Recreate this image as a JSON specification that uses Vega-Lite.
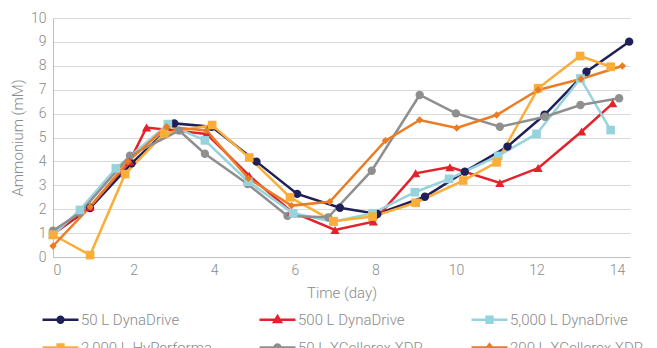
{
  "$schema": "https://vega.github.io/schema/vega-lite/v6.json",
  "width": 577,
  "height": 239,
  "autosize": "none",
  "padding": {"left": 53, "top": 18, "right": 27, "bottom": 91},
  "config": {
    "font": "Roboto",
    "view": {"stroke": null},
    "axis": {
      "labelColor": "#8a8a8a",
      "titleColor": "#8a8a8a",
      "labelFontSize": 14,
      "titleFontSize": 15,
      "titleFontWeight": 300,
      "labelFontWeight": 300,
      "ticks": false,
      "domainColor": "#bfbfbf",
      "gridColor": "#d9d9d9",
      "gridWidth": 1.2
    },
    "legend": {
      "title": null,
      "orient": "none",
      "legendX": -12,
      "legendY": 282,
      "direction": "horizontal",
      "columns": 3,
      "columnPadding": 42,
      "symbolSize": 1296,
      "symbolStrokeWidth": 2.5,
      "symbolOpacity": 1,
      "labelOffset": 1,
      "labelFontSize": 15,
      "labelFontWeight": 300,
      "labelColor": "#8a8a8a",
      "labelLimit": 300
    }
  },
  "data": {
    "values": [
      {"s": "50 L DynaDrive", "d": 0, "v": 0.97},
      {"s": "50 L DynaDrive", "d": 0.92, "v": 2.05},
      {"s": "50 L DynaDrive", "d": 1.95, "v": 3.92},
      {"s": "50 L DynaDrive", "d": 3.01, "v": 5.59},
      {"s": "50 L DynaDrive", "d": 3.94, "v": 5.45},
      {"s": "50 L DynaDrive", "d": 5.05, "v": 3.99},
      {"s": "50 L DynaDrive", "d": 6.06, "v": 2.64},
      {"s": "50 L DynaDrive", "d": 7.12, "v": 2.06},
      {"s": "50 L DynaDrive", "d": 8.05, "v": 1.8},
      {"s": "50 L DynaDrive", "d": 9.23, "v": 2.52},
      {"s": "50 L DynaDrive", "d": 10.22, "v": 3.57},
      {"s": "50 L DynaDrive", "d": 11.28, "v": 4.62},
      {"s": "50 L DynaDrive", "d": 12.2, "v": 5.95},
      {"s": "50 L DynaDrive", "d": 13.24, "v": 7.75},
      {"s": "50 L DynaDrive", "d": 14.3, "v": 9.01},

      {"s": "500 L DynaDrive", "d": 0, "v": 0.95},
      {"s": "500 L DynaDrive", "d": 0.92, "v": 2.1},
      {"s": "500 L DynaDrive", "d": 1.9, "v": 4.0},
      {"s": "500 L DynaDrive", "d": 2.32, "v": 5.42},
      {"s": "500 L DynaDrive", "d": 3.81, "v": 5.15},
      {"s": "500 L DynaDrive", "d": 4.87, "v": 3.4},
      {"s": "500 L DynaDrive", "d": 5.92, "v": 1.9},
      {"s": "500 L DynaDrive", "d": 7.0, "v": 1.13},
      {"s": "500 L DynaDrive", "d": 7.95, "v": 1.48},
      {"s": "500 L DynaDrive", "d": 9.0, "v": 3.5},
      {"s": "500 L DynaDrive", "d": 9.85, "v": 3.76},
      {"s": "500 L DynaDrive", "d": 11.09, "v": 3.1},
      {"s": "500 L DynaDrive", "d": 12.04, "v": 3.72},
      {"s": "500 L DynaDrive", "d": 13.12, "v": 5.25},
      {"s": "500 L DynaDrive", "d": 13.89, "v": 6.43},

      {"s": "5,000 L DynaDrive", "d": 0, "v": 0.92},
      {"s": "5,000 L DynaDrive", "d": 0.67, "v": 1.97},
      {"s": "5,000 L DynaDrive", "d": 1.56, "v": 3.71},
      {"s": "5,000 L DynaDrive", "d": 2.85, "v": 5.56},
      {"s": "5,000 L DynaDrive", "d": 3.77, "v": 4.88},
      {"s": "5,000 L DynaDrive", "d": 4.85, "v": 3.15},
      {"s": "5,000 L DynaDrive", "d": 5.96, "v": 1.83},
      {"s": "5,000 L DynaDrive", "d": 6.96, "v": 1.48},
      {"s": "5,000 L DynaDrive", "d": 7.93, "v": 1.83},
      {"s": "5,000 L DynaDrive", "d": 8.98, "v": 2.71},
      {"s": "5,000 L DynaDrive", "d": 9.83, "v": 3.27},
      {"s": "5,000 L DynaDrive", "d": 11.05, "v": 4.23},
      {"s": "5,000 L DynaDrive", "d": 12.0, "v": 5.15},
      {"s": "5,000 L DynaDrive", "d": 13.09, "v": 7.47},
      {"s": "5,000 L DynaDrive", "d": 13.84, "v": 5.31},

      {"s": "2,000 L HyPerforma", "d": 0, "v": 0.93},
      {"s": "2,000 L HyPerforma", "d": 0.92, "v": 0.08},
      {"s": "2,000 L HyPerforma", "d": 1.79, "v": 3.47},
      {"s": "2,000 L HyPerforma", "d": 2.76, "v": 5.17},
      {"s": "2,000 L HyPerforma", "d": 3.95, "v": 5.52},
      {"s": "2,000 L HyPerforma", "d": 4.87, "v": 4.16},
      {"s": "2,000 L HyPerforma", "d": 5.88, "v": 2.5},
      {"s": "2,000 L HyPerforma", "d": 6.96, "v": 1.5},
      {"s": "2,000 L HyPerforma", "d": 7.93, "v": 1.69},
      {"s": "2,000 L HyPerforma", "d": 9.0, "v": 2.27},
      {"s": "2,000 L HyPerforma", "d": 10.18, "v": 3.2},
      {"s": "2,000 L HyPerforma", "d": 11.01, "v": 3.96},
      {"s": "2,000 L HyPerforma", "d": 12.04, "v": 7.06},
      {"s": "2,000 L HyPerforma", "d": 13.08, "v": 8.41},
      {"s": "2,000 L HyPerforma", "d": 13.84, "v": 7.96},

      {"s": "50 L XCellerex XDR", "d": 0, "v": 1.1},
      {"s": "50 L XCellerex XDR", "d": 0.67, "v": 1.85},
      {"s": "50 L XCellerex XDR", "d": 1.91, "v": 4.24},
      {"s": "50 L XCellerex XDR", "d": 3.13, "v": 5.29},
      {"s": "50 L XCellerex XDR", "d": 3.77, "v": 4.32},
      {"s": "50 L XCellerex XDR", "d": 4.83, "v": 3.05},
      {"s": "50 L XCellerex XDR", "d": 5.82, "v": 1.72},
      {"s": "50 L XCellerex XDR", "d": 6.83, "v": 1.66},
      {"s": "50 L XCellerex XDR", "d": 7.91, "v": 3.61},
      {"s": "50 L XCellerex XDR", "d": 9.1, "v": 6.78},
      {"s": "50 L XCellerex XDR", "d": 10.0, "v": 6.01},
      {"s": "50 L XCellerex XDR", "d": 11.09, "v": 5.45},
      {"s": "50 L XCellerex XDR", "d": 12.21, "v": 5.87},
      {"s": "50 L XCellerex XDR", "d": 13.09, "v": 6.36},
      {"s": "50 L XCellerex XDR", "d": 14.05, "v": 6.64},

      {"s": "200 L XCellerex XDR", "d": 0, "v": 0.46},
      {"s": "200 L XCellerex XDR", "d": 0.92, "v": 2.1},
      {"s": "200 L XCellerex XDR", "d": 1.86, "v": 3.99},
      {"s": "200 L XCellerex XDR", "d": 2.82, "v": 5.45},
      {"s": "200 L XCellerex XDR", "d": 3.81, "v": 5.29},
      {"s": "200 L XCellerex XDR", "d": 4.85, "v": 3.29},
      {"s": "200 L XCellerex XDR", "d": 5.92, "v": 2.15},
      {"s": "200 L XCellerex XDR", "d": 6.87, "v": 2.31},
      {"s": "200 L XCellerex XDR", "d": 8.25, "v": 4.87},
      {"s": "200 L XCellerex XDR", "d": 9.1, "v": 5.73},
      {"s": "200 L XCellerex XDR", "d": 10.02, "v": 5.4},
      {"s": "200 L XCellerex XDR", "d": 11.01, "v": 5.94},
      {"s": "200 L XCellerex XDR", "d": 12.04, "v": 6.99},
      {"s": "200 L XCellerex XDR", "d": 13.1, "v": 7.45},
      {"s": "200 L XCellerex XDR", "d": 14.13, "v": 7.99}
    ]
  },
  "encoding": {
    "x": {
      "field": "d",
      "type": "quantitative",
      "scale": {"domain": [0, 14.32], "nice": false, "zero": false},
      "axis": {"values": [0, 2, 4, 6, 8, 10, 12, 14], "title": "Time (day)", "grid": false, "labelPadding": 6, "titlePadding": 8}
    },
    "y": {
      "field": "v",
      "type": "quantitative",
      "scale": {"domain": [0, 10], "nice": false},
      "axis": {"values": [0, 1, 2, 3, 4, 5, 6, 7, 8, 9, 10], "title": "Ammonium (mM)", "labelPadding": 7, "titlePadding": 5}
    },
    "color": {
      "field": "s", "type": "nominal",
      "scale": {
        "domain": ["50 L DynaDrive", "500 L DynaDrive", "5,000 L DynaDrive", "2,000 L HyPerforma", "50 L XCellerex XDR", "200 L XCellerex XDR"],
        "range": ["#202058", "#e3222b", "#97d3dc", "#fbad3a", "#8f8f8f", "#ec7c24"]
      }
    }
  },
  "layer": [
    {
      "mark": {"type": "line", "strokeWidth": 2.5}
    },
    {
      "transform": [{"filter": "datum.s === '50 L DynaDrive' || datum.s === '50 L XCellerex XDR'"}],
      "mark": {"type": "point", "filled": true, "opacity": 1, "shape": "circle", "size": 70}
    },
    {
      "transform": [{"filter": "datum.s === '500 L DynaDrive'"}],
      "mark": {"type": "point", "filled": true, "opacity": 1, "shape": "triangle-up", "size": 85}
    },
    {
      "transform": [{"filter": "datum.s === '5,000 L DynaDrive' || datum.s === '2,000 L HyPerforma'"}],
      "mark": {"type": "point", "filled": true, "opacity": 1, "shape": "square", "size": 75}
    },
    {
      "transform": [{"filter": "datum.s === '200 L XCellerex XDR'"}],
      "mark": {"type": "point", "filled": true, "opacity": 1, "shape": "diamond", "size": 55}
    },
    {
      "transform": [{"filter": "datum.v > 100"}],
      "mark": {"type": "point", "filled": true, "opacity": 1},
      "encoding": {
        "shape": {
          "field": "s", "type": "nominal",
          "scale": {
            "domain": ["50 L DynaDrive", "500 L DynaDrive", "5,000 L DynaDrive", "2,000 L HyPerforma", "50 L XCellerex XDR", "200 L XCellerex XDR"],
            "range": [
              "M-1,0H1M0.16,0A0.16,0.16 0 1,1 -0.16,0A0.16,0.16 0 1,1 0.16,0Z",
              "M-1,0H1M0,-0.2L0.19,0.12L-0.19,0.12Z",
              "M-1,0H1M-0.16,-0.16H0.16V0.16H-0.16Z",
              "M-1,0H1M-0.16,-0.16H0.16V0.16H-0.16Z",
              "M-1,0H1M0.16,0A0.16,0.16 0 1,1 -0.16,0A0.16,0.16 0 1,1 0.16,0Z",
              "M-1,0H1M0,-0.18L0.14,0L0,0.18L-0.14,0Z"
            ]
          },
          "legend": {
            "rowPadding": -20,
            "encode": {
              "symbols": {
                "update": {
                  "stroke": {"scale": "color", "field": "value"},
                  "strokeWidth": {"value": 2.5},
                  "opacity": {"value": 1}
                }
              }
            }
          }
        }
      }
    }
  ]
}
